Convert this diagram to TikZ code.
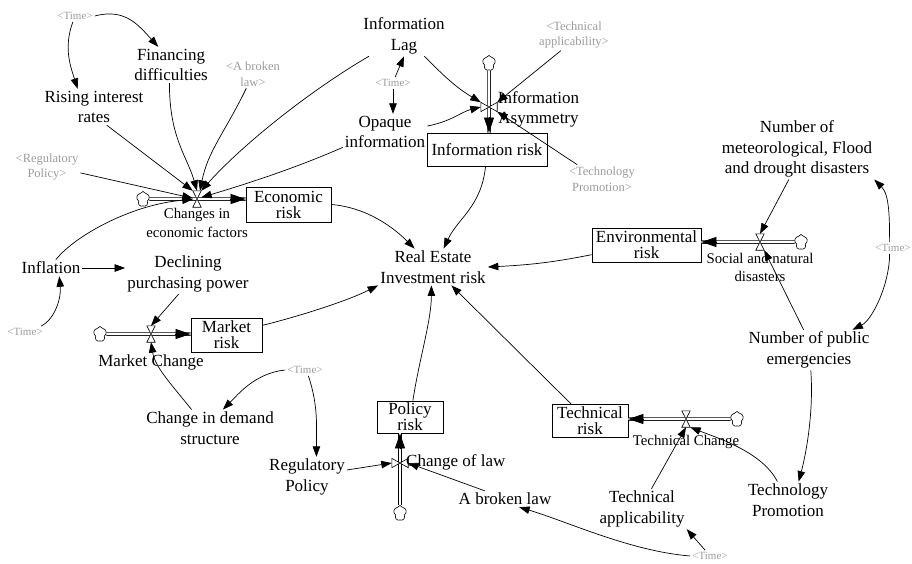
\documentclass[tikz,border=0pt]{standalone}
\usepackage{fontspec}
\setmainfont{Liberation Serif}
\usetikzlibrary{arrows.meta,shapes.symbols,calc}
\definecolor{ghostgray}{RGB}{155,155,155}
\newcommand\fsz[2]{\fontsize{#1}{#2}\selectfont}
\tikzset{
 lbl/.style={align=center,font=\fsz{17}{20.5},inner sep=2pt},
 flowlbl/.style={align=center,font=\fsz{14.8}{18.5},inner sep=2pt},
 ghost/.style={align=center,font=\fsz{12.5}{15.5},text=ghostgray,inner sep=2pt},
 timelbl/.style={font=\fsz{11}{13},text=ghostgray,inner sep=2pt},
 stock/.style={draw,line width=0.8pt,align=center,font=\fsz{17}{16},inner sep=0pt},
 lnk/.style={-{Triangle[length=10.5pt,width=7.5pt]},line width=0.7pt},
 pipe/.style={double=white,double distance=2pt,line width=0.75pt},
 pipehead/.style={-{Triangle[length=15pt,width=10pt]},line width=0.75pt},
 valveh/.style={minimum width=8pt,minimum height=16pt,inner sep=0pt},
 valvev/.style={minimum width=16pt,minimum height=9pt,inner sep=0pt},
 valveshape/.style={draw,fill=white,line width=0.6pt},
 cloudst/.style={cloud,draw,fill=white,cloud puffs=5,cloud puff arc=140,aspect=0.85,minimum width=13pt,minimum height=15pt,inner sep=0pt,line width=0.6pt},
}
\begin{document}
\begin{tikzpicture}[x=1pt,y=-1pt]
\useasboundingbox (0,0) rectangle (912,563);
\clip (0,0) rectangle (912,563);
% stocks
\node[stock,minimum width=85pt,minimum height=35pt] (econ) at (288.5,204.5) {Economic\\risk};
\node[stock,minimum width=120pt,minimum height=33pt] (infr) at (487,149.5) {Information risk};
\node[stock,minimum width=109pt,minimum height=34pt] (env) at (646.5,245) {Environmental\\risk};
\node[stock,minimum width=71pt,minimum height=34pt] (mkt) at (226.5,335) {Market\\risk};
\node[stock,minimum width=66pt,minimum height=32pt] (pol) at (410,417) {Policy\\risk};
\node[stock,minimum width=76pt,minimum height=33pt] (tech) at (590,421) {Technical\\risk};
% valves and clouds
\node[valveh] (vE) at (197,199) {};
\node[cloudst] (cE) at (143,199) {};
\node[valvev] (vI) at (489,107) {};
\node[cloudst] (cI) at (489,63) {};
\node[valveh] (vEnv) at (760,242) {};
\node[cloudst] (cEnv) at (801,242) {};
\node[valveh] (vM) at (151,334) {};
\node[cloudst] (cM) at (100,334) {};
\node[valvev] (vP) at (400,463) {};
\node[cloudst] (cP) at (400,513) {};
\node[valveh] (vT) at (686,419) {};
\node[cloudst] (cT) at (737,419) {};
% pipes
\draw[pipe] (cE.east) -- (vE -| econ.west);
\draw[pipehead] ($(vE -| econ.west)+(-16,0)$) -- (vE -| econ.west);
\draw[pipe] (cI.south) -- (vI |- infr.north);
\draw[pipehead] ($(vI |- infr.north)+(0,-16)$) -- (vI |- infr.north);
\draw[pipe] (cEnv.west) -- (vEnv -| env.east);
\draw[pipehead] ($(vEnv -| env.east)+(16,0)$) -- (vEnv -| env.east);
\draw[pipe] (cM.east) -- (vM -| mkt.west);
\draw[pipehead] ($(vM -| mkt.west)+(-16,0)$) -- (vM -| mkt.west);
\draw[pipe] (cP.north) -- (vP |- pol.south);
\draw[pipehead] ($(vP |- pol.south)+(0,16)$) -- (vP |- pol.south);
\draw[pipe] (cT.west) -- (vT -| tech.east);
\draw[pipehead] ($(vT -| tech.east)+(16,0)$) -- (vT -| tech.east);
\foreach \v in {vE,vEnv,vM,vT}{
 \draw[valveshape] (\v.north west) -- (\v.north east) -- (\v.south west) -- (\v.south east) -- cycle;}
\foreach \v in {vI,vP}{
 \draw[valveshape] (\v.north west) -- (\v.south west) -- (\v.north east) -- (\v.south east) -- cycle;}
% flow labels
\node[flowlbl] (chg) at (197,223) {Changes in\\economic factors};
\node[lbl] (ias) at (538.5,109.5) {Information\\Asymmetry};
\node[flowlbl] (snd) at (760,267.5) {Social and natural\\disasters};
\node[lbl] (mch) at (151,362) {Market Change};
\node[lbl,anchor=west] (col) at (404,462) {Change of law};
\node[flowlbl] (tchg) at (686,442) {Technical Change};
% auxiliaries
\node[lbl] (reir) at (433,267) {Real Estate\\Investment risk};
\node[lbl] (fin) at (171,65) {Financing\\difficulties};
\node[lbl] (rise) at (94,107) {Rising interest\\rates};
\node[lbl] (infl) at (51,268) {Inflation};
\node[lbl] (decl) at (188,274) {Declining\\purchasing power};
\node[lbl] (lag) at (404,36) {Information\\Lag};
\node[lbl] (opq) at (385,132) {Opaque\\information};
\node[lbl] (nmf) at (797,149) {Number of\\meteorological, Flood\\and drought disasters};
\node[lbl] (npe) at (809,350) {Number of public\\emergencies};
\node[lbl] (tpr) at (788,500) {Technology\\Promotion};
\node[lbl] (tapl) at (642,509) {Technical\\applicability};
\node[lbl] (abk) at (505,499) {A broken law};
\node[lbl] (regpol) at (307,477) {Regulatory\\Policy};
\node[lbl] (cds) at (210,428) {Change in demand\\structure};
% shadow variables
\node[timelbl] (t1) at (75,16) {<Time>};
\node[timelbl] (t2) at (25,332) {<Time>};
\node[timelbl] (t3) at (393,83) {<Time>};
\node[timelbl] (t4) at (893,248) {<Time>};
\node[timelbl] (t5) at (710,556) {<Time>};
\node[timelbl] (t6) at (305,370) {<Time>};
\node[ghost] (abl) at (253,74) {<A broken\\law>};
\node[ghost] (regp) at (47,167) {<Regulatory\\Policy>};
\node[ghost] (tapp) at (574,35) {<Technical\\applicability>};
\node[ghost] (tprom) at (602,179) {<Technology\\Promotion>};
% links: economic
\draw[lnk] (t1.east) .. controls +(30,-8) and +(-20,-22) .. (fin.125);
\draw[lnk] (t1.250) .. controls +(-9,25) and +(-8,-25) .. (rise.132);
\draw[lnk] (fin.-95) .. controls +(0,55) and +(-10,-35) .. (vE.north);
\draw[lnk] (rise.-55) -- (vE.north west);
\draw[lnk] (abl.-115) .. controls +(-22,45) and +(8,-40) .. (vE.70);
\draw[lnk] (lag.-150) .. controls +(-60,35) and +(40,-45) .. (vE.north east);
\draw[lnk] (opq.-160) .. controls +(-50,22) and +(40,-12) .. (vE.20);
\draw[lnk] (regp.-10) -- (vE.170);
\draw[lnk] (infl.60) .. controls +(20,-25) and +(-60,5) .. (vE.-175);
\draw[lnk] (infl.east) -- (infl.east -| decl.west);
\draw[lnk] (t2.20) .. controls +(15,-8) and +(2,20) .. (infl.-45);
% links to the total risk
\draw[lnk] (econ.east) .. controls +(35,3) and +(-22,-22) .. (reir.135);
\draw[lnk] (infr.-95) .. controls +(-4,40) and +(14,-30) .. (reir.60);
\draw[lnk] (env.-170) .. controls +(-40,8) and +(40,-2) .. (reir.east);
\draw[lnk] (mkt.15) .. controls +(40,-10) and +(-30,15) .. (reir.south west);
\draw[lnk] (pol.80) .. controls +(6,-40) and +(0,35) .. (reir.-95);
\draw[lnk] (tech.138) -- (reir.-45);
% links: information
\draw[lnk] (lag.-45) .. controls +(20,20) and +(-25,-15) .. (vI.north west);
\draw[lnk] (opq.8) .. controls +(25,-5) and +(-20,5) .. (vI.west);
\draw[lnk] (tapp.-130) -- (vI.north east);
\draw[lnk] (tprom.150) -- (vI.south east);
\draw[lnk] (t3.70) -- (lag.south);
\draw[lnk] (t3.south) -- (t3.south |- opq.north);
% links: market
\draw[lnk] (decl.-115) -- (vM.north);
\draw[lnk] (cds.135) .. controls +(-20,-25) and +(4,25) .. (vM.south);
\draw[lnk] (t6.west) .. controls +(-30,3) and +(15,-15) .. (cds.55);
\draw[lnk] (t6.-60) .. controls +(10,30) and +(0,-30) .. (regpol.65);
% links: policy
\draw[lnk] (regpol.10) -- (vP.west);
\draw[lnk] (abk.158) -- (vP.east);
\draw[lnk] (t5.west) .. controls +(-60,-5) and +(50,15) .. (abk.-30);
\draw[lnk] (t5.130) -- (tapl.south east);
% links: technical
\draw[lnk] (tapl.65) -- (vT.south);
\draw[lnk] (tpr.120) .. controls +(-15,-30) and +(25,10) .. (vT.south east);
\draw[lnk] (npe.-85) .. controls +(3,40) and +(8,-30) .. (tpr.60);
% links: environmental
\draw[lnk] (t4.120) .. controls +(0,-25) and +(15,15) .. (nmf.south east);
\draw[lnk] (t4.-120) .. controls +(0,30) and +(20,-10) .. (npe.25);
\draw[lnk] (nmf.-105) -- (vEnv.north);
\draw[lnk] (npe.105) -- (vEnv.south east);
\end{tikzpicture}
\end{document}
